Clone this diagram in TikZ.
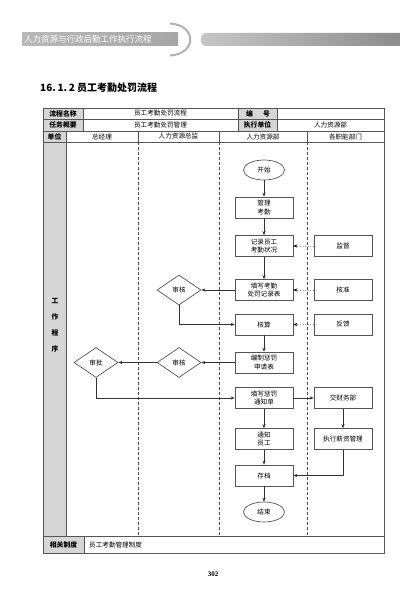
\documentclass[tikz,border=0pt]{standalone}
\usepackage{fontspec}
\setmainfont{Liberation Serif}
\newfontfamily\cjk{Noto Sans CJK SC}
\usetikzlibrary{shapes.geometric,arrows.meta,calc}
\definecolor{labelgray}{HTML}{D6D6D6}
\definecolor{linegray}{HTML}{555555}
\tikzset{
  txt/.style={font=\cjk\fontsize{6.6}{8}\selectfont, inner sep=0pt, align=center},
  btxt/.style={font=\cjk\bfseries\fontsize{6.8}{8}\selectfont, inner sep=0pt, align=center},
  procbox/.style={draw=linegray, line width=0.7pt, minimum width=58pt, minimum height=21pt, inner sep=0pt, align=center, font=\cjk\fontsize{6.6}{8.5}\selectfont},
  termnode/.style={draw=linegray, line width=0.7pt, ellipse, minimum width=41pt, minimum height=20pt, inner sep=0pt, font=\cjk\fontsize{6.6}{8}\selectfont},
  decnode/.style={draw=linegray, line width=0.7pt, diamond, aspect=1.45, minimum width=44pt, minimum height=30pt, inner sep=0pt, font=\cjk\fontsize{6.6}{8}\selectfont},
  flow/.style={draw=black!80, line width=0.6pt, -{Stealth[length=4pt,width=3.2pt]}},
  dflow/.style={draw=black!45, line width=0.6pt, dotted, -{Stealth[length=4pt,width=3.2pt,color=black]}},
  lane/.style={draw=black!70, line width=0.5pt, densely dashed},
  grid/.style={draw=linegray, line width=0.6pt}
}
\begin{document}
\begin{tikzpicture}[x=1pt,y=-1pt]
\useasboundingbox (0,0) rectangle (400,604);
\fill[white] (0,0) rectangle (400,604);
% header band
\shade[left color=black!28, right color=black!35] (22,33) rectangle (178,46);
\node[font=\cjk\fontsize{8.5}{9}\selectfont, text=white, anchor=west, inner sep=0pt] (hdr) at (24,39.5) {人力资源与行政后勤工作执行流程};
\draw[black!30, line width=2pt] (170,23.5) .. controls (197,25) and (197,54) .. (170,55.5);
\shade[left color=black!22, right color=black!45] (206,33) -- (400,33) -- (400,46) -- (206,46) .. controls (199,46) and (199,33) .. (206,33) -- cycle;
% title
\node[font=\cjk\bfseries\fontsize{10}{12}\selectfont, anchor=west, inner sep=0pt] (title) at (40,88) {16.\,1.\,2 员工考勤处罚流程};
% gray cells
\fill[labelgray] (43,108) rectangle (83,131);
\fill[labelgray] (238,108) rectangle (277,131);
\fill[labelgray] (43,131) rectangle (66,536);
\fill[labelgray] (43,536) rectangle (84,553);
% table grid
\draw[grid, line width=0.9pt] (43,108) rectangle (384,553);
\draw[grid] (43,119) -- (384,119);
\draw[grid] (43,131) -- (384,131);
\draw[grid] (43,142) -- (384,142);
\draw[grid] (43,536) -- (384,536);
\draw[grid] (83,108) -- (83,131);
\draw[grid] (238,108) -- (238,131);
\draw[grid] (277,108) -- (277,131);
\draw[grid] (66,131) -- (66,536);
\draw[grid] (138,131) -- (138,142);
\draw[grid] (219,131) -- (219,142);
\draw[grid] (307,131) -- (307,142);
\draw[grid] (84,536) -- (84,553);
\draw[lane] (138,142) -- (138,536);
\draw[lane] (219,142) -- (219,536);
\draw[lane] (307,142) -- (307,536);
% table texts
\node[btxt] (l1) at (63,113.5) {流程名称};
\node[txt] (v1) at (160.5,113.5) {员工考勤处罚流程};
\node[btxt] (l2) at (258,113.5) {编\hspace{10pt}号};
\node[btxt] (l3) at (63,125) {任务概要};
\node[txt] (v3) at (160.5,125) {员工考勤处罚管理};
\node[btxt] (l4) at (257.5,125) {执行单位};
\node[txt] (v4) at (330.5,125) {人力资源部};
\node[btxt] (u0) at (54.5,136.5) {单位};
\node[txt] (u1) at (102,136.5) {总经理};
\node[txt] (u2) at (178.5,136.5) {人力资源总监};
\node[txt] (u3) at (263,136.5) {人力资源部};
\node[txt] (u4) at (345.5,136.5) {各职能部门};
\node[btxt] (side) at (55,325) {工\\[8pt]作\\[8pt]程\\[8pt]序};
\node[btxt] (l5) at (63.5,544.5) {相关制度};
\node[txt, anchor=west] (v5) at (89,544.5) {员工考勤管理制度};
\node[font=\bfseries\fontsize{7}{8}\selectfont, inner sep=0pt] (pg) at (213,574) {302};
% flow nodes
\node[termnode] (start) at (264,170) {开始};
\node[procbox] (manage) at (264,207.5) {管理\\考勤};
\node[procbox] (record) at (264,246) {记录员工\\考勤状况};
\node[procbox] (fill) at (264,290) {填写考勤\\处罚记录表};
\node[procbox] (calc) at (264,324.5) {核算};
\node[procbox] (compile) at (264,362.5) {编制惩罚\\申请表};
\node[procbox] (notice) at (264,398) {填写惩罚\\通知单};
\node[procbox] (inform) at (264,439) {通知\\员工};
\node[procbox] (archive) at (264,475.5) {存档};
\node[termnode] (end) at (264,512) {结束};
\node[procbox] (supervise) at (343,246) {监督};
\node[procbox] (approve) at (343,290) {核准};
\node[procbox] (feedback) at (343,324.5) {反馈};
\node[procbox] (finance) at (343,398) {交财务部};
\node[procbox] (salary) at (343,439) {执行薪资管理};
\node[decnode] (rev1) at (179,290) {审核};
\node[decnode] (rev2) at (179,362.5) {审核};
\node[decnode] (appr) at (96,362.5) {审批};
% connectors
\draw[flow] (start) -- (manage);
\draw[flow] (manage) -- (record);
\draw[flow] (record) -- (fill);
\draw[dflow] (supervise) -- (record);
\draw[dflow] (approve) -- (fill);
\draw[dflow] (feedback) -- (calc);
\draw[flow] (fill) -- (rev1);
\draw[flow] (rev1.south) |- (calc.west);
\draw[flow] (calc) -- (compile);
\draw[flow] (compile) -- (rev2);
\draw[flow] (rev2) -- (appr);
\draw[flow] (appr.south) |- (notice.west);
\draw[flow] (notice) -- (finance);
\draw[flow] (notice) -- (inform);
\draw[flow] (inform) -- (archive);
\draw[flow] (archive) -- (end);
\draw[flow] (finance) -- (salary);
\draw[flow] (salary.south) |- (archive.east);
\end{tikzpicture}
\end{document}
